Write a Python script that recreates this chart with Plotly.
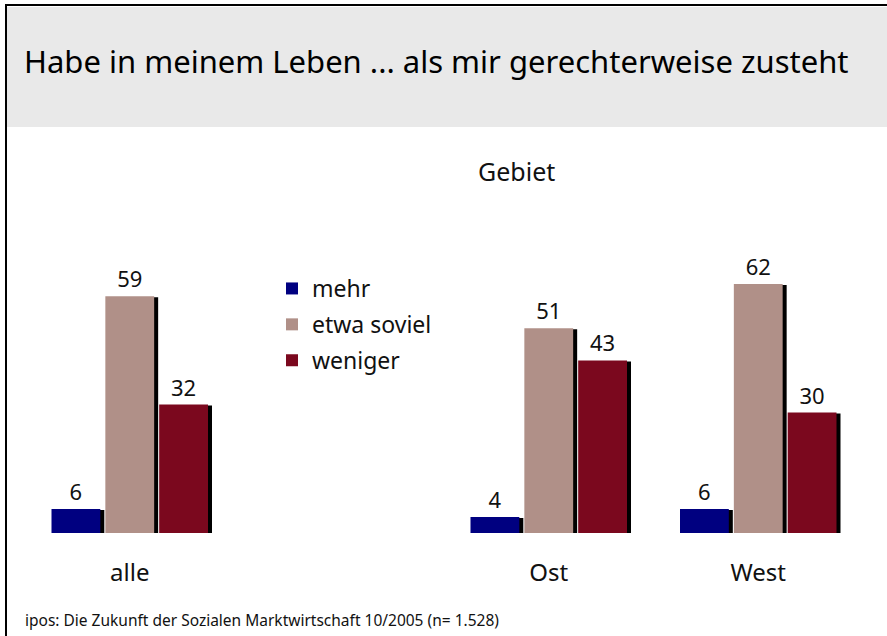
import plotly.graph_objects as go

# Survey answers by region (percent)
gebiete = ["alle", "Ost", "West"]
gebiet_pos = [0, 2, 3]
mehr = [6, 4, 6]
etwa_soviel = [59, 51, 62]
weniger = [32, 43, 30]

serien = [
    ("mehr", mehr, "#000080"),
    ("etwa soviel", etwa_soviel, "#b09088"),
    ("weniger", weniger, "#7b081e"),
]

W, H = 887, 636
L, R, T, B = 25, 24, 252, 103
FONT = "Noto Sans"

bar_w = 0.233
step = 0.257
px_x = 838 / 4.0   # pixels per x unit
px_y = 281 / 70.0  # pixels per y unit

fig = go.Figure()

# drop shadows behind each bar
for i, (name, vals, col) in enumerate(serien):
    off = (i - 1) * step - bar_w / 2 + 4 / px_x
    fig.add_trace(go.Bar(
        x=gebiet_pos, y=vals, base=[-1 / px_y] * len(vals),
        width=bar_w, offset=off, marker=dict(color="black", line=dict(width=0)),
        showlegend=False, hoverinfo="skip",
    ))

for i, (name, vals, col) in enumerate(serien):
    off = (i - 1) * step - bar_w / 2
    fig.add_trace(go.Bar(
        x=gebiet_pos, y=vals, name=name, legendgroup=name,
        width=bar_w, offset=off, marker=dict(color=col, line=dict(width=0)),
        text=[str(v) for v in vals], textposition="outside",
        textfont=dict(size=22, color="#111111", family=FONT),
        cliponaxis=False,
    ))


def xp(px):
    return (px - L) / (W - L - R)


def yp(py):
    return (H - B - py) / (H - T - B)


shapes = [
    dict(type="rect", xref="paper", yref="paper", x0=xp(7), x1=xp(887),
         y0=yp(127), y1=yp(7), fillcolor="#e9e9e9", line=dict(width=0), layer="below"),
    dict(type="line", xref="paper", yref="paper", x0=xp(5), x1=xp(887),
         y0=yp(5), y1=yp(5), line=dict(color="black", width=2)),
    dict(type="line", xref="paper", yref="paper", x0=xp(6), x1=xp(6),
         y0=yp(4), y1=yp(640), line=dict(color="black", width=2)),
]

annotations = [
    dict(text="Habe in meinem Leben ... als mir gerechterweise zusteht",
         xref="paper", yref="paper", x=xp(22), y=yp(61), xanchor="left", yanchor="middle",
         showarrow=False, font=dict(size=31, color="black", family=FONT)),
    dict(text="Gebiet", xref="paper", yref="paper", x=xp(516), y=yp(171),
         xanchor="center", yanchor="middle", showarrow=False,
         font=dict(size=25, color="#111111", family=FONT)),
    dict(text="ipos: Die Zukunft der Sozialen Marktwirtschaft 10/2005 (n= 1.528)",
         xref="paper", yref="paper", x=xp(23), y=yp(620), xanchor="left", yanchor="middle",
         showarrow=False, font=dict(size=15.5, color="#111111", family=FONT)),
]

fig.update_layout(
    width=W, height=H,
    margin=dict(l=L, r=R, t=T, b=B, pad=0),
    paper_bgcolor="white", plot_bgcolor="white",
    barmode="overlay",
    shapes=shapes, annotations=annotations,
    font=dict(family=FONT, color="#111111"),
    legend=dict(x=xp(272), y=yp(267), xanchor="left", yanchor="top",
                font=dict(size=23, family=FONT, color="#111111"),
                tracegroupgap=3, itemclick=False, bgcolor="rgba(0,0,0,0)"),
    xaxis=dict(range=[-0.5, 3.5], tickvals=gebiet_pos, ticktext=gebiete,
               showgrid=False, zeroline=False, showline=False,
               ticks="", ticklabelstandoff=23,
               tickfont=dict(size=24, family=FONT, color="#111111")),
    yaxis=dict(range=[0, 70], visible=False),
)

fig.write_html("out.html")
